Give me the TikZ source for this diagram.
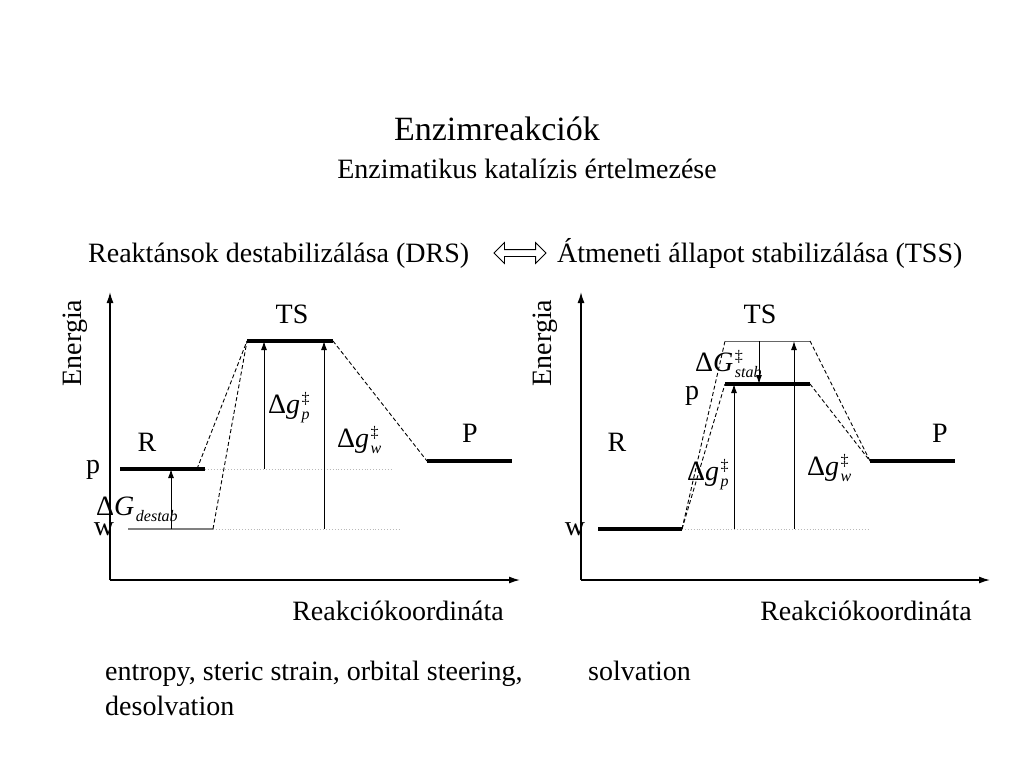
\documentclass[tikz,border=0pt]{standalone}
\usepackage{fontspec}
\setmainfont{Liberation Serif}
\usetikzlibrary{arrows.meta,shapes.arrows}

% energy difference label: letter, superscript, subscript
\newcommand{\gaplabel}[3]{Δ\textit{#1}\kern1.5pt{\fontsize{16}{16}\selectfont\rlap{\raisebox{10pt}{#2}}\raisebox{-6.5pt}{\textit{#3}}}}

\begin{document}
\begin{tikzpicture}[x=1pt, y=-1pt]
    % Define styles
    \tikzset{
        stateline/.style={line width=4pt},
        axisline/.style={line width=1.4pt, -{Latex[length=11pt,width=7pt]}},
        gaparrow/.style={line width=1pt, -{Latex[length=9pt,width=6pt]}},
        linkline/.style={line width=0.9pt, dash pattern=on 4pt off 2.5pt},
        refline/.style={gray!55, line width=0.9pt, dotted},
        textlabel/.style={font=\fontsize{28}{35}\selectfont, inner sep=0pt},
        statelabel/.style={font=\fontsize{28}{30}\selectfont, inner sep=0pt}
    }
    \useasboundingbox (0,0) rectangle (1024,768);

    % Titles
    \node[font=\fontsize{34}{40}\selectfont, inner sep=0pt, anchor=base] (title) at (497,140) {Enzimreakciók};
    \node[textlabel, anchor=base] (subtitle) at (527,178) {Enzimatikus katalízis értelmezése};
    \node[textlabel, anchor=base west] (drs) at (88,262) {Reaktánsok destabilizálása (DRS)};
    \node[double arrow, draw, line width=0.8pt, minimum height=52pt, inner sep=3pt, double arrow head extend=7pt] (equiv) at (520,253) {};
    \node[textlabel, anchor=base west] (tss) at (557,262) {Átmeneti állapot stabilizálása (TSS)};

    % Left diagram: axes
    \coordinate (Lorig) at (110,580);
    \coordinate (Ltop) at (110,292);
    \coordinate (Lend) at (520,580);
    \draw[axisline] (Lorig) -- (Ltop);
    \draw[axisline] (Lorig) -- (Lend);

    % Left diagram: levels
    \coordinate (LRa) at (120,469);
    \coordinate (LRb) at (205,469);
    \coordinate (LTa) at (247,341);
    \coordinate (LTb) at (333,341);
    \coordinate (LPa) at (427,461);
    \coordinate (LPb) at (512,461);
    \coordinate (LWa) at (128,529);
    \coordinate (LWb) at (213,529);
    \coordinate (LWend) at (400,529);
    \coordinate (Lpend) at (392,469);
    \coordinate (LRlink) at (197,469);
    \draw[stateline] (LRa) -- (LRb);
    \draw[stateline] (LTa) -- (LTb);
    \draw[stateline] (LPa) -- (LPb);
    \draw[gray, line width=1.5pt] (LWa) -- (LWb);
    \draw[refline] (LWb) -- (LWend);
    \draw[refline] (LRb) -- (Lpend);

    % Left diagram: reaction paths
    \draw[linkline] (LRlink) -- (LTa);
    \draw[linkline] (LWb) -- (LTa);
    \draw[linkline] (LTb) -- (LPa);

    % Left diagram: energy gaps
    \coordinate (Ld1) at (171,529);
    \coordinate (Ld2) at (171,469);
    \coordinate (Lp1) at (264,469);
    \coordinate (Lp2) at (264,341);
    \coordinate (Lw1) at (324,529);
    \coordinate (Lw2) at (324,341);
    \draw[gaparrow] (Ld1) -- (Ld2);
    \draw[gaparrow] (Lp1) -- (Lp2);
    \draw[gaparrow] (Lw1) -- (Lw2);

    % Left diagram: labels
    \node[statelabel, rotate=90] (Lenergy) at (75,343) {Energia};
    \node[statelabel] (Lts) at (292,314) {TS};
    \node[statelabel] (Lr) at (147,442) {R};
    \node[statelabel] (Lp) at (470,433) {P};
    \node[statelabel] (Lplevel) at (93,470) {p};
    \node[statelabel] (Lwlevel) at (104,529) {w};
    \node[statelabel, anchor=base west] (Ldestab) at (96,515) {\gaplabel{G}{}{destab}};
    \node[statelabel, anchor=base west] (Ldgp) at (268,413) {\gaplabel{g}{‡}{p}};
    \node[statelabel, anchor=base west] (Ldgw) at (337,447) {\gaplabel{g}{‡}{w}};
    \node[textlabel, anchor=base] (Lcoord) at (398,620) {Reakciókoordináta};

    % Right diagram: axes
    \coordinate (Rorig) at (581,580);
    \coordinate (Rtop) at (581,292);
    \coordinate (Rend) at (990,580);
    \draw[axisline] (Rorig) -- (Rtop);
    \draw[axisline] (Rorig) -- (Rend);

    % Right diagram: levels
    \coordinate (RTa) at (725,341);
    \coordinate (RTb) at (810,341);
    \coordinate (RSa) at (725,384);
    \coordinate (RSb) at (810,384);
    \coordinate (RWa) at (598,529);
    \coordinate (RWb) at (682,529);
    \coordinate (RPa) at (870,461);
    \coordinate (RPb) at (955,461);
    \coordinate (RWend) at (870,529);
    \draw[gray!80!black, line width=1pt] (RTa) -- (RTb);
    \draw[stateline] (RSa) -- (RSb);
    \draw[stateline] (RWa) -- (RWb);
    \draw[stateline] (RPa) -- (RPb);
    \draw[refline] (RWb) -- (RWend);

    % Right diagram: reaction paths
    \draw[linkline] (RWb) -- (RTa);
    \draw[linkline] (RWb) -- (RSa);
    \draw[linkline] (RTb) -- (RPa);
    \draw[linkline] (RSb) -- (RPa);

    % Right diagram: energy gaps
    \coordinate (Rs1) at (759,341);
    \coordinate (Rs2) at (759,384);
    \coordinate (Rp1) at (734,529);
    \coordinate (Rp2) at (734,384);
    \coordinate (Rw1) at (794,529);
    \coordinate (Rw2) at (794,341);
    \draw[gaparrow] (Rs1) -- (Rs2);
    \draw[gaparrow] (Rp1) -- (Rp2);
    \draw[gaparrow] (Rw1) -- (Rw2);

    % Right diagram: labels
    \node[statelabel, rotate=90] (Renergy) at (545,343) {Energia};
    \node[statelabel] (Rts) at (760,314) {TS};
    \node[statelabel] (Rplevel) at (692,396) {p};
    \node[statelabel] (Rr) at (617,442) {R};
    \node[statelabel] (Rp) at (940,433) {P};
    \node[statelabel] (Rwlevel) at (575,529) {w};
    \node[statelabel, anchor=base west] (Rstab) at (695,371) {\gaplabel{G}{‡}{stab}};
    \node[statelabel, anchor=base west] (Rdgp) at (687,480) {\gaplabel{g}{‡}{p}};
    \node[statelabel, anchor=base west] (Rdgw) at (807,475) {\gaplabel{g}{‡}{w}};
    \node[textlabel, anchor=base] (Rcoord) at (866,620) {Reakciókoordináta};

    % Notes
    \node[textlabel, anchor=base west, align=left] (notes) at (105,715) {entropy, steric strain, orbital steering,\\desolvation};
    \node[textlabel, anchor=base west] (solv) at (588,680) {solvation};
\end{tikzpicture}
\end{document}
